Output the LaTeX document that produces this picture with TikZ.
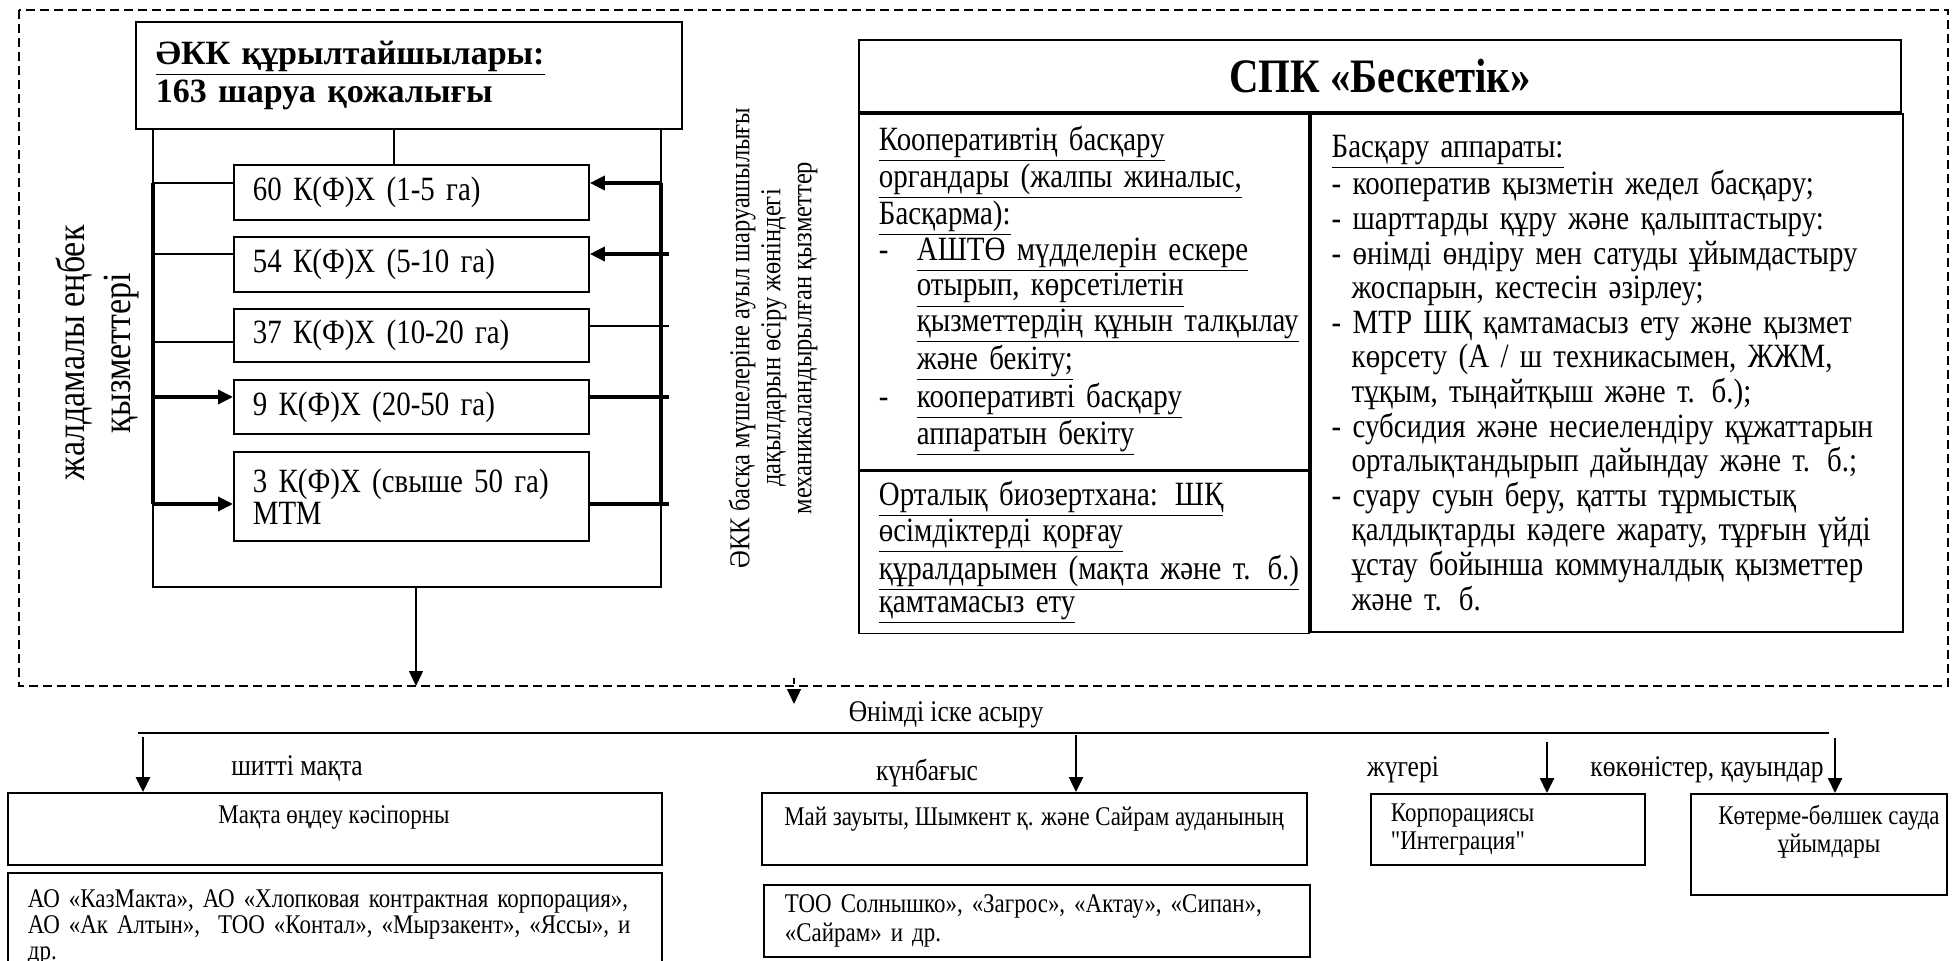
\documentclass[tikz,border=0pt]{standalone}
\usepackage{fontspec}
\setmainfont[FakeStretch=0.85]{Liberation Serif}
\newfontfamily\headfont{Liberation Serif}
\newfontfamily\rawfont[FakeStretch=0.85, Ligatures=TeXOff]{Liberation Serif}
\usetikzlibrary{arrows.meta}
\begin{document}
\begin{tikzpicture}[x=0.5pt, y=-0.5pt,
    box/.style={draw, line width=0.9pt},
    thinline/.style={line width=0.7pt},
    heavy/.style={line width=1.7pt},
    midline/.style={line width=1.3pt},
    tip/.style={-{Triangle[length=7.5pt, width=7pt]}},
    frame/.style={line width=0.75pt, dash pattern=on 4.5pt off 2.5pt},
    kfx/.style={box, anchor=north west, minimum width=177.5pt, text width=158.5pt,
      inner xsep=9.5pt, align=left, font=\fontsize{17}{16}\selectfont},
    cell/.style={box, anchor=north west, align=left, inner ysep=0pt, font=\fontsize{17}{16.6}\selectfont},
    lbl/.style={font=\fontsize{15}{18}\selectfont, inner sep=0pt},
    small/.style={font=\fontsize{13.5}{14.2}\selectfont}
  ]
  \useasboundingbox (0,0) rectangle (1952,961);
  \draw[frame] (19,10) rectangle (1948,686);

  \node[box, anchor=north west, minimum width=273pt, minimum height=53.5pt, text width=253pt,
    inner xsep=10pt, align=left, font=\fontsize{17}{19}\headfont\bfseries] (founders) at (135,21)
    {\underline{ӘКК құрылтайшылары:}\\163 шаруа қожалығы};

  \node[kfx, minimum height=27.5pt] (k1) at (233,164) {60 К(Ф)Х (1-5 га)};
  \node[kfx, minimum height=27.5pt] (k2) at (233,236) {54 К(Ф)Х (5-10 га)};
  \node[kfx, minimum height=26.5pt] (k3) at (233,308) {37 К(Ф)Х (10-20 га)};
  \node[kfx, minimum height=27pt] (k4) at (233,379) {9 К(Ф)Х (20-50 га)};
  \node[kfx, minimum height=44.5pt] (k5) at (233,451) {3 К(Ф)Х (свыше 50 га)\\МТМ};

  \coordinate (busL) at (153,587);
  \coordinate (busR) at (661,587);
  \coordinate (mid) at (394,128);
  \coordinate (down) at (416,587);
  \coordinate (sale) at (416,686);

  \draw[thinline] (founders.south -| busL) -- (busL) -- (busR) -- (founders.south -| busR);
  \draw[thinline] (mid) -- (k1.north -| mid);
  \draw[heavy] (153,183) -- (153,504);
  \draw[heavy] (661,183) -- (661,504);
  \begin{scope}[thinline]
    \draw (153,183) -- (k1.west |- 0,183);
    \draw (153,254) -- (k2.west |- 0,254);
    \draw (153,342) -- (k3.west |- 0,342);
    \draw (k3.east |- 0,326) -- (669,326);
    \draw[tip] (down) -- (sale);
  \end{scope}
  \begin{scope}[heavy, tip]
    \draw (153,397) -- (k4.west |- 0,397);
    \draw (153,504) -- (k5.west |- 0,504);
    \draw (661,183) -- (k1.east |- 0,183);
    \draw (669,254) -- (k2.east |- 0,254);
  \end{scope}
  \draw[heavy] (k4.east |- 0,397) -- (669,397);
  \draw[heavy] (k5.east |- 0,504) -- (669,504);

  \node[rotate=90, align=center, font=\fontsize{20}{23}\selectfont] (hired) at (97,353)
    {жалдамалы еңбек\\қызметтері};
  \node[rotate=90, align=center, font=\fontsize{14.4}{15.5}\selectfont] (mech) at (773,338)
    {ӘКК басқа мүшелеріне ауыл шаруашылығы\\дақылдарын өсіру жөніндегі\\механикаландырылған қызметтер};

  \node[box, anchor=north west, minimum width=521pt, minimum height=36pt,
    font=\fontsize{24}{28}\selectfont\bfseries] (spk) at (858,39) {СПК «Бескетік»};
  \node[cell, minimum width=225pt, minimum height=178pt, text width=205pt, inner xsep=10pt] (organs) at (spk.south west)
    {\underline{Кооперативтің басқару}\\
     \underline{органдары (жалпы жиналыс,}\\
     \underline{Басқарма):}\\
     \makebox[19pt][l]{-}\underline{АШТӨ мүдделерін ескере}\\
     \hspace*{19pt}\underline{отырып, көрсетілетін}\\
     \hspace*{19pt}\underline{қызметтердің құнын талқылау}\\
     \hspace*{19pt}\underline{және бекіту;}\\
     \makebox[19pt][l]{-}\underline{кооперативті басқару}\\
     \hspace*{19pt}\underline{аппаратын бекіту}\\[-10.4pt]
     \mbox{}};
  \node[cell, minimum width=225pt, minimum height=81pt, text width=205pt, inner xsep=10pt] (biolab) at (organs.south west)
    {\underline{Орталық биозертхана: ШҚ}\\
     \underline{өсімдіктерді қорғау}\\
     \underline{құралдарымен (мақта және т. б.)}\\
     \underline{қамтамасыз ету}};
  \node[cell, minimum width=296pt, minimum height=259pt, text width=275pt, inner xsep=10.5pt,
    font=\fontsize{17}{17.3}\selectfont] (staff) at (organs.north east)
    {\underline{Басқару аппараты:}\\
     - кооператив қызметін жедел басқару;\\
     - шарттарды құру және қалыптастыру:\\
     - өнімді өндіру мен сатуды ұйымдастыру\\
     \hspace*{10pt}жоспарын, кестесін әзірлеу;\\
     - МТР ШҚ қамтамасыз ету және қызмет\\
     \hspace*{10pt}көрсету (А / ш техникасымен, ЖЖМ,\\
     \hspace*{10pt}тұқым, тыңайтқыш және т. б.);\\
     - субсидия және несиелендіру құжаттарын\\
     \hspace*{10pt}орталықтандырып дайындау және т. б.;\\
     - суару суын беру, қатты тұрмыстық\\
     \hspace*{10pt}қалдықтарды кәдеге жарату, тұрғын үйді\\
     \hspace*{10pt}ұстау бойынша коммуналдық қызметтер\\
     \hspace*{10pt}және т. б.};

  \coordinate (hintA) at (794,678);
  \coordinate (hintB) at (794,704);
  \draw[thinline, dashed, tip] (hintA) -- (hintB);
  \node[lbl] (realize) at (946,715) {Өнімді іске асыру};
  \coordinate (railL) at (138,733);
  \coordinate (railR) at (1829,733);
  \draw[thinline] (railL) -- (railR);

  \node[lbl] (cotton) at (297,768) {шитті мақта};
  \node[lbl] (sunflower) at (927,773) {күнбағыс};
  \node[lbl] (maize) at (1403,770) {жүгері};
  \node[lbl] (veg) at (1707,770) {көкөністер, қауындар};

  \node[box, anchor=north west, minimum width=327pt, minimum height=36pt] (gin) at (7,792) {};
  \node[small] (gintext) at (334,817) {Мақта өңдеу кәсіпорны};
  \node[box, anchor=north west, text width=307pt, inner xsep=10pt, inner ysep=8.5pt, align=left, small,
    font=\fontsize{13.5}{12.9}\selectfont] (ginfirms) at (7,872)
    {АО «КазМакта», АО «Хлопковая контрактная корпорация»,\\
     АО «Ак Алтын», \ ТОО «Контал», «Мырзакент», «Яссы», и\\
     др.};
  \node[box, anchor=north west, minimum width=272.5pt, minimum height=36pt] (oil) at (761,792) {};
  \node[small] (oiltext) at (1034,819) {Май зауыты, Шымкент қ. және Сайрам ауданының};
  \node[box, anchor=north west, minimum width=273pt, minimum height=36pt, text width=252pt,
    inner xsep=10.5pt, align=left, small] (oilfirms) at (763,884)
    {ТОО Солнышко», «Загрос», «Актау», «Сипан»,\\«Сайрам» и др.};
  \node[box, anchor=north west, minimum width=137pt, minimum height=35.5pt, text width=117pt,
    inner xsep=10pt, align=left, small] (integ) at (1370,793) {Корпорациясы\\{\rawfont"}Интеграция{\rawfont"}};
  \node[box, anchor=north west, minimum width=128pt, minimum height=50.5pt] (trade) at (1690,793) {};
  \node[small, align=center] (tradetext) at (1829,832) {Көтерме-бөлшек сауда\\ұйымдары};

  \begin{scope}[midline, tip]
    \draw (143,737) -- (gin.north -| 143,0);
    \draw (1076,735) -- (oil.north -| 1076,0);
    \draw (1547,742) -- (integ.north -| 1547,0);
    \draw (1835,738) -- (trade.north -| 1835,0);
  \end{scope}
\end{tikzpicture}
\end{document}
